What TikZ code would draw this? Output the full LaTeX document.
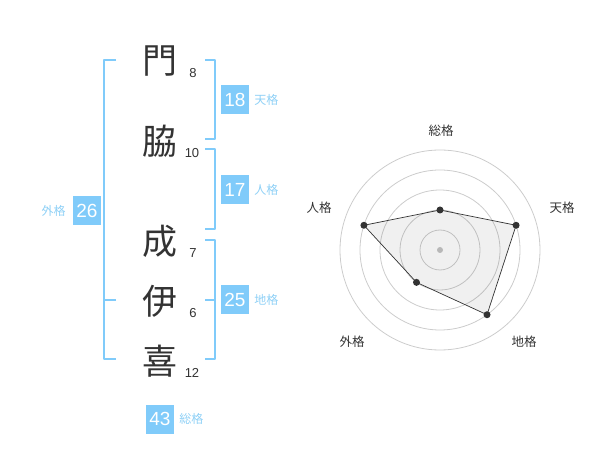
\documentclass[tikz,border=0pt]{standalone}
\usepackage{fontspec}
\setmainfont{Liberation Sans}
\newfontfamily\jp{Noto Sans CJK JP}
\usetikzlibrary{positioning}
\definecolor{kakublue}{HTML}{80CBFA}
\definecolor{kakulabel}{HTML}{8ED0F6}
\definecolor{ink}{HTML}{333333}
\definecolor{ringgray}{HTML}{CCCCCC}
\begin{document}
\begin{tikzpicture}[x=1pt,y=-1pt,line join=round,
	kanji/.style={font=\jp\fontsize{35}{35}\selectfont,text=ink,inner sep=0pt},
	strokes/.style={font=\fontsize{13}{14}\selectfont,text=ink,inner sep=0pt},
	kakubox/.style={fill=kakublue,text=white,minimum width=28pt,minimum height=29pt,inner sep=0pt,font=\fontsize{19}{20}\selectfont},
	kakuname/.style={text=kakulabel,font=\jp\fontsize{12}{14}\selectfont,inner sep=0pt},
	bracket/.style={draw=kakublue,line width=2pt},
	axisname/.style={text=ink,font=\jp\fontsize{12.5}{14}\selectfont,inner sep=0pt}]
	\useasboundingbox (0,0) rectangle (600,470);
	% name and stroke counts
	\path
	(160,61) node[kanji] (k1) {門}
	(160,141) node[kanji] (k2) {脇}
	(160,241) node[kanji] (k3) {成}
	(160,301) node[kanji] (k4) {伊}
	(160,361) node[kanji] (k5) {喜}
	(193,73) node[strokes] (s1) {8}
	(192,153) node[strokes] (s2) {10}
	(193,253) node[strokes] (s3) {7}
	(193,313) node[strokes] (s4) {6}
	(192,373) node[strokes] (s5) {12}
	;
	% brackets
	\coordinate (ten-a) at (205,60);
	\coordinate (ten-b) at (205,139);
	\coordinate (jin-a) at (205,149);
	\coordinate (jin-b) at (205,229);
	\coordinate (chi-a) at (205,240);
	\coordinate (chi-m) at (205,300);
	\coordinate (chi-b) at (205,359);
	\coordinate (gai-a) at (116,60);
	\coordinate (gai-m) at (116,300);
	\coordinate (gai-b) at (116,359);
	\draw[bracket] (ten-a) -- ++(10,0) |- (ten-b);
	\draw[bracket] (jin-a) -- ++(10,0) |- (jin-b);
	\draw[bracket] (chi-a) -- ++(10,0) |- (chi-b);
	\draw[bracket] (chi-m) -- ++(10,0);
	\draw[bracket] (gai-a) -- ++(-12,0) |- (gai-b);
	\draw[bracket] (gai-m) -- ++(-12,0);
	% totals
	\node[kakubox] (ten) at (235,100) {18};
	\node[kakuname,right=5pt of ten] (ten-l) {天格};
	\node[kakubox] (jin) at (235,190) {17};
	\node[kakuname,right=5pt of jin] (jin-l) {人格};
	\node[kakubox] (chi) at (235,300) {25};
	\node[kakuname,right=5pt of chi] (chi-l) {地格};
	\node[kakubox] (gai) at (87,211) {26};
	\node[kakuname,left=7pt of gai] (gai-l) {外格};
	\node[kakubox] (sou) at (160,419) {43};
	\node[kakuname,right=5pt of sou] (sou-l) {総格};
	% radar chart
	\begin{scope}[shift={(440,250)},yscale=-1]
		\foreach \r in {20,40,60,80,100}
		\draw[ringgray,line width=0.8pt] (0,0) circle (\r pt);
		\coordinate (r-sou) at (90:40);
		\coordinate (r-ten) at (18:80);
		\coordinate (r-chi) at (-54:80);
		\coordinate (r-gai) at (-126:40);
		\coordinate (r-jin) at (162:80);
		\filldraw[fill=black,fill opacity=0.06,draw=ink,line width=0.7pt]
		(r-sou) -- (r-ten) -- (r-chi) -- (r-gai) -- (r-jin) -- cycle;
		\foreach \p in {sou,ten,chi,gai,jin}
		\fill[ink] (r-\p) circle (3.5pt);
		\fill[ringgray!90!black] (0,0) circle (3pt);
	\end{scope}
	\path
	(441,131) node[axisname] (a-sou) {総格}
	(562,208) node[axisname] (a-ten) {天格}
	(524,342) node[axisname] (a-chi) {地格}
	(352,342) node[axisname] (a-gai) {外格}
	(319,208) node[axisname] (a-jin) {人格}
	;
\end{tikzpicture}
\end{document}
